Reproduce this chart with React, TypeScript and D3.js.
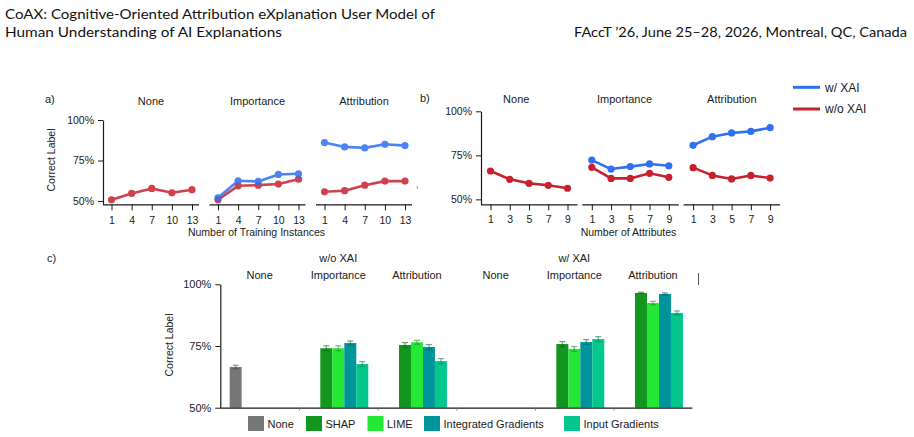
import React, { useEffect, useRef } from "react";
import * as d3 from "d3";

// ---- data ----
const xaiTypes = ["None", "Importance", "Attribution"];
const trainingTicks = [1, 4, 7, 10, 13];
const attributeTicks = [1, 3, 5, 7, 9];

// a) accuracy by number of training instances
const trainNoneWithout = [50.8, 54.7, 57.8, 55.1, 57.0];
const trainImportanceWith = [52.0, 62.5, 62.1, 66.4, 66.8];
const trainImportanceWithout = [50.8, 59.4, 59.8, 60.5, 63.5];
const trainAttributionWith = [86.1, 83.4, 82.8, 85.0, 84.2];
const trainAttributionWithout = [55.7, 56.4, 59.8, 62.3, 62.3];

// b) accuracy by number of attributes
const attrNoneWithout = [66.1, 61.4, 59.1, 58.0, 56.3];
const attrImportanceWith = [72.3, 67.2, 68.6, 70.1, 69.1];
const attrImportanceWithout = [68.2, 61.9, 61.9, 64.8, 62.5];
const attrAttributionWith = [80.7, 85.6, 87.7, 88.6, 90.7];
const attrAttributionWithout = [68.0, 63.6, 61.6, 63.6, 62.1];

// c) accuracy per explanation method
const methods = ["None", "SHAP", "LIME", "Integrated Gradients", "Input Gradients"];
const conditions = ["w/o XAI", "w/ XAI"];
const noneWithoutMean = 66.5;
const noneWithoutErr = 0.7;
const importanceWithoutMeans = [74.1, 74.1, 76.2, 67.7];
const importanceWithoutErr = [1.0, 1.0, 0.8, 1.0];
const attributionWithoutMeans = [75.4, 76.5, 74.6, 68.9];
const attributionWithoutErr = [1.0, 0.8, 1.0, 1.0];
const importanceWithMeans = [75.8, 73.8, 76.6, 77.8];
const importanceWithErr = [1.0, 1.0, 1.0, 1.0];
const attributionWithMeans = [96.5, 92.4, 96.1, 88.4];
const attributionWithErr = [0.3, 0.7, 0.4, 0.8];

const pctTicks = [50, 75, 100];

const BLUE = "#2f6ff2";
const RED = "#c8202f";
const methodColors = ["#787878", "#13961d", "#23e834", "#00959a", "#04c78e"];

const FONT = "'Liberation Sans', Arial, Helvetica, sans-serif";
const INK = "#1a1a1a";

const App = () => {
  const svgRef = useRef<SVGSVGElement | null>(null);
  const width = 914;
  const height = 437;

  useEffect(() => {
    const svg = d3.select(svgRef.current);
    svg.selectAll("*").remove();

    // page header
    const head = svg.append("g").attr("font-family", "Lato, 'Open Sans', sans-serif").attr("font-size", 14).attr("fill", "#111");
    head.append("text").attr("x", 5).attr("y", 19.3)
      .attr("textLength", 430).attr("lengthAdjust", "spacingAndGlyphs")
      .text("CoAX: Cognitive-Oriented Attribution eXplanation User Model of");
    head.append("text").attr("x", 5).attr("y", 36.7)
      .attr("textLength", 277).attr("lengthAdjust", "spacingAndGlyphs")
      .text("Human Understanding of AI Explanations");
    head.append("text").attr("x", 907).attr("y", 36.6).attr("text-anchor", "end")
      .attr("textLength", 333).attr("lengthAdjust", "spacingAndGlyphs")
      .text("FAccT \u201926, June 25\u201328, 2026, Montreal, QC, Canada");

    const styleAxis = (g, size) => {
      g.attr("font-family", FONT).attr("font-size", size);
      g.selectAll("text").attr("fill", INK);
      g.selectAll("line").attr("stroke", INK);
      g.selectAll(".domain").attr("stroke", INK).attr("stroke-width", 1.2);
    };

    // small-multiple line panels (a and b)
    const drawLinePanel = (opts) => {
      const { left, stride, facetWidth, padL, padR, y, baseline, ticks, facets, titleY, titleShift, tickY } = opts;

      const yAxis = svg.append("g")
        .attr("transform", `translate(${left},0)`)
        .call(d3.axisLeft(y).tickValues(pctTicks).tickFormat((d) => `${d}%`).tickSize(5).tickPadding(4).tickSizeOuter(0));
      styleAxis(yAxis, 10.5);

      facets.forEach((f, i) => {
        const x0 = left + i * stride;
        const x = d3.scaleLinear().domain(d3.extent(ticks)).range([x0 + padL, x0 + facetWidth - padR]);

        const xAxis = svg.append("g")
          .attr("transform", `translate(0,${baseline})`)
          .call(d3.axisBottom(x).tickValues(ticks).tickFormat(d3.format("d")).tickSize(6).tickPadding(tickY).tickSizeOuter(0));
        xAxis.select(".domain").attr("d", `M${x0},0.5H${x0 + facetWidth}`);
        styleAxis(xAxis, 10.5);

        svg.append("text")
          .attr("x", x0 + facetWidth / 2 + (titleShift ? titleShift[i] : 0))
          .attr("y", titleY)
          .attr("text-anchor", "middle")
          .attr("font-family", FONT).attr("font-size", 11).attr("fill", INK)
          .text(f.title);

        const line = d3.line<number>().x((_, k) => x(ticks[k])).y((d) => y(d));
        f.series.forEach((s) => {
          const g = svg.append("g").attr("opacity", opts.opacity);
          g.append("path").datum(s.values)
            .attr("d", line).attr("fill", "none")
            .attr("stroke", s.color).attr("stroke-width", 2.6).attr("stroke-linejoin", "round");
          g.selectAll("circle").data(s.values).join("circle")
            .attr("cx", (_, k) => x(ticks[k])).attr("cy", (d) => y(d))
            .attr("r", 3.6).attr("fill", s.color);
        });
      });
    };

    // a)
    const yA = d3.scaleLinear().domain([48, 100]).range([204.3, 120]);
    drawLinePanel({
      left: 103, stride: 106.5, facetWidth: 96, padL: 8.5, padR: 7,
      y: yA, baseline: 204.3, ticks: trainingTicks, titleY: 105, tickY: 6, opacity: 0.85,
      facets: [
        { title: xaiTypes[0], series: [{ values: trainNoneWithout, color: RED }] },
        { title: xaiTypes[1], series: [{ values: trainImportanceWithout, color: RED }, { values: trainImportanceWith, color: BLUE }] },
        { title: xaiTypes[2], series: [{ values: trainAttributionWithout, color: RED }, { values: trainAttributionWith, color: BLUE }] },
      ],
    });
    svg.append("text").attr("x", 45).attr("y", 103).attr("font-family", FONT).attr("font-size", 11).attr("fill", INK).text("a)");
    svg.append("text").attr("transform", "translate(55,160) rotate(-90)").attr("text-anchor", "middle")
      .attr("font-family", FONT).attr("font-size", 10.5).attr("fill", INK).text("Correct Label");
    svg.append("text").attr("x", 256.5).attr("y", 236).attr("text-anchor", "middle")
      .attr("font-family", FONT).attr("font-size", 10.5).attr("fill", INK).text("Number of Training Instances");

    // b)
    const yB = d3.scaleLinear().domain([47.2, 100]).range([204.3, 111.3]);
    drawLinePanel({
      left: 481, stride: 101.3, facetWidth: 96.5, padL: 9.5, padR: 10,
      y: yB, baseline: 204.3, ticks: attributeTicks, titleY: 102.6, titleShift: [-13, -6, 0], tickY: 5.5, opacity: 1,
      facets: [
        { title: xaiTypes[0], series: [{ values: attrNoneWithout, color: RED }] },
        { title: xaiTypes[1], series: [{ values: attrImportanceWithout, color: RED }, { values: attrImportanceWith, color: BLUE }] },
        { title: xaiTypes[2], series: [{ values: attrAttributionWithout, color: RED }, { values: attrAttributionWith, color: BLUE }] },
      ],
    });
    svg.append("text").attr("x", 420).attr("y", 102).attr("font-family", FONT).attr("font-size", 11).attr("fill", INK).text("b)");
    svg.append("text").attr("x", 628.5).attr("y", 236).attr("text-anchor", "middle")
      .attr("font-family", FONT).attr("font-size", 10.5).attr("fill", INK).text("Number of Attributes");

    // legend for a/b
    const lineLegend = [{ label: "w/ XAI", color: BLUE }, { label: "w/o XAI", color: RED }];
    lineLegend.forEach((d, i) => {
      const ly = 87.3 + i * 21.7;
      svg.append("line").attr("x1", 793).attr("x2", 820).attr("y1", ly).attr("y2", ly)
        .attr("stroke", d.color).attr("stroke-width", 3);
      svg.append("text").attr("x", 825).attr("y", ly + 4.3)
        .attr("font-family", FONT).attr("font-size", 12).attr("fill", INK).text(d.label);
    });
    svg.append("line").attr("x1", 417).attr("x2", 417.5).attr("y1", 186).attr("y2", 189)
      .attr("stroke", "#999").attr("stroke-width", 1);

    // c) grouped bars
    const bands = conditions.flatMap((c) => xaiTypes.map((t) => `${c}|${t}`));
    const x0 = d3.scaleBand().domain(bands).range([220.3, 692.3]);
    const x1 = d3.scaleBand().domain(methods).range([0, x0.bandwidth()]).paddingOuter(0.78);
    const yC = d3.scaleLinear().domain([50, 100]).range([407.7, 284.3]);

    const bars = [
      { band: "w/o XAI|None", method: methods[0], mean: noneWithoutMean, err: noneWithoutErr },
      ...methods.slice(1).map((m, i) => ({ band: "w/o XAI|Importance", method: m, mean: importanceWithoutMeans[i], err: importanceWithoutErr[i] })),
      ...methods.slice(1).map((m, i) => ({ band: "w/o XAI|Attribution", method: m, mean: attributionWithoutMeans[i], err: attributionWithoutErr[i] })),
      ...methods.slice(1).map((m, i) => ({ band: "w/ XAI|Importance", method: m, mean: importanceWithMeans[i], err: importanceWithErr[i] })),
      ...methods.slice(1).map((m, i) => ({ band: "w/ XAI|Attribution", method: m, mean: attributionWithMeans[i], err: attributionWithErr[i] })),
    ];
    const color = d3.scaleOrdinal<string, string>().domain(methods).range(methodColors);

    const gBars = svg.append("g");
    gBars.selectAll("rect").data(bars).join("rect")
      .attr("x", (d) => x0(d.band) + x1(d.method))
      .attr("width", x1.bandwidth())
      .attr("y", (d) => yC(d.mean))
      .attr("height", (d) => yC(50) - yC(d.mean))
      .attr("fill", (d) => color(d.method));

    const gErr = svg.append("g").attr("opacity", 0.6);
    bars.forEach((d) => {
      const cx = x0(d.band) + x1(d.method) + x1.bandwidth() / 2;
      const c = d3.color(color(d.method)).darker(1.3).formatHex();
      const top = yC(d.mean + d.err);
      const bot = yC(d.mean - d.err);
      gErr.append("line").attr("x1", cx).attr("x2", cx).attr("y1", top).attr("y2", bot).attr("stroke", c).attr("stroke-width", 1.2);
      [top, bot].forEach((yy) =>
        gErr.append("line").attr("x1", cx - 3).attr("x2", cx + 3).attr("y1", yy).attr("y2", yy).attr("stroke", c).attr("stroke-width", 1.2)
      );
    });

    const yAxisC = svg.append("g")
      .attr("transform", "translate(220.3,0)")
      .call(d3.axisLeft(yC).tickValues(pctTicks).tickFormat((d) => `${d}%`).tickSize(5).tickPadding(4).tickSizeOuter(0));
    styleAxis(yAxisC, 11);

    // baseline with small dividers between the categories
    const xr = x0.range();
    svg.append("line").attr("x1", xr[0]).attr("x2", xr[1]).attr("y1", yC(50) + 0.5).attr("y2", yC(50) + 0.5)
      .attr("stroke", INK).attr("stroke-width", 1.2);
    svg.append("g").selectAll("line").data(bands.slice(1)).join("line")
      .attr("x1", (d) => x0(d) + 0.5).attr("x2", (d) => x0(d) + 0.5)
      .attr("y1", yC(50)).attr("y2", yC(50) + 3)
      .attr("stroke", "#777").attr("stroke-width", 0.8);

    // column titles
    svg.append("g").selectAll("text").data(bands).join("text")
      .attr("x", (d) => x0(d) + x0.bandwidth() / 2).attr("y", 279)
      .attr("text-anchor", "middle").attr("font-family", FONT).attr("font-size", 11).attr("fill", INK)
      .text((d) => d.split("|")[1]);
    svg.append("g").selectAll("text").data(conditions).join("text")
      .attr("x", (d) => x0(`${d}|Importance`) + x0.bandwidth() / 2).attr("y", 262)
      .attr("text-anchor", "middle").attr("font-family", FONT).attr("font-size", 11).attr("fill", INK)
      .text((d) => d);

    svg.append("text").attr("x", 47).attr("y", 262).attr("font-family", FONT).attr("font-size", 11).attr("fill", INK).text("c)");
    svg.append("text").attr("transform", "translate(173,345) rotate(-90)").attr("text-anchor", "middle")
      .attr("font-family", FONT).attr("font-size", 10.5).attr("fill", INK).text("Correct Label");
    svg.append("line").attr("x1", 698.5).attr("x2", 698.5).attr("y1", 273).attr("y2", 285)
      .attr("stroke", "#555").attr("stroke-width", 1);

    // legend for c
    const legendX = [248, 306, 367.5, 424, 564];
    const lg = svg.append("g").selectAll("g").data(methods).join("g")
      .attr("transform", (_, i) => `translate(${legendX[i]},416)`);
    lg.append("rect").attr("width", 16).attr("height", 15).attr("fill", (d) => color(d));
    lg.append("text").attr("x", 19.5).attr("y", 12)
      .attr("font-family", FONT).attr("font-size", 11).attr("fill", INK).text((d) => d);
  }, []);

  return (
    <svg
      ref={svgRef}
      width={width}
      height={height}
      viewBox={`0 0 ${width} ${height}`}
      style={{ position: "absolute", left: 0, top: 0, background: "#fff" }}
    />
  );
};

export default App;
